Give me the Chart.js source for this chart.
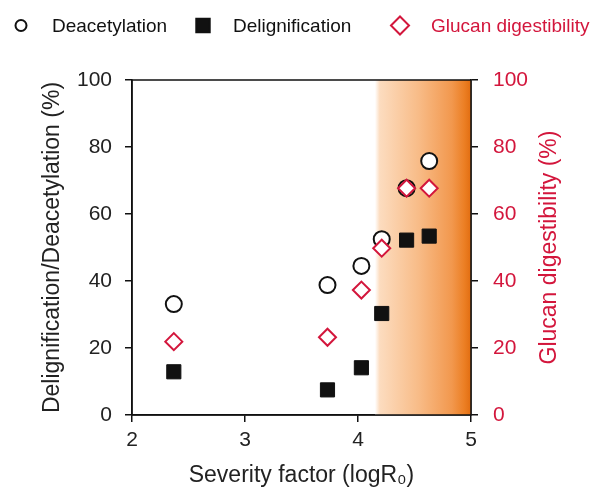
<!DOCTYPE html>
<html>
<head>
<meta charset="utf-8">
<script src="https://cdn.jsdelivr.net/npm/chart.js@4.4.1/dist/chart.umd.min.js"></script>
<style>
  html, body { margin: 0; padding: 0; background: #fff; }
  canvas { display: block; }
</style>
</head>
<body>
<canvas id="chart" width="592" height="487"></canvas>
<script>
// Severity factor (logR0) for each pretreatment
const severity = [2.37, 3.73, 4.03, 4.21, 4.43, 4.63];
// values in %
const deacetylation = [33.1, 38.8, 44.5, 52.5, 67.7, 75.8];
const delignification = [12.9, 7.5, 14.1, 30.3, 52.2, 53.4];
const glucanDigest = [21.9, 23.2, 37.3, 49.8, 67.7, 67.7];
const legendNames = ["Deacetylation", "Delignification", "Glucan digestibility"];
const rightTitle = "Glucan digestibility (%)";
const shadeFrom = 4.15; // orange band starts here

const RED = "#d3163c";
const FONT = "'Liberation Sans', Arial, sans-serif";

function pts(ys) {
  return severity.map((x, i) => ({ x, y: ys[i] }));
}

// orange gradient band behind the points
const shadePlugin = {
  id: "shade",
  beforeDatasetsDraw(chart) {
    const { ctx, chartArea, scales } = chart;
    const x0 = scales.x.getPixelForValue(shadeFrom);
    const x1 = chartArea.right;
    const g = ctx.createLinearGradient(x0, 0, x1, 0);
    g.addColorStop(0, "rgba(255,255,255,1)");
    g.addColorStop(0.05, "#fcdcbf");
    g.addColorStop(0.45, "#f8bc88");
    g.addColorStop(0.8, "#f2984e");
    g.addColorStop(0.93, "#ec7f24");
    g.addColorStop(1, "#e26d10");
    ctx.save();
    ctx.fillStyle = g;
    ctx.fillRect(x0, chartArea.top, x1 - x0, chartArea.bottom - chartArea.top);
    ctx.restore();
  },
  afterDatasetsDraw(chart) {
    const { ctx, chartArea } = chart;
    ctx.save();
    ctx.strokeStyle = "#111";
    ctx.lineWidth = 1.5;
    ctx.strokeRect(chartArea.left, chartArea.top, chartArea.right - chartArea.left, chartArea.bottom - chartArea.top);
    ctx.restore();
  }
};

// legend row across the top (runs off the right edge like the original)
// plus the right axis title, which reads bottom-to-top like the left one
const textPlugin = {
  id: "texts",
  afterDraw(chart) {
    const ctx = chart.ctx;
    const items = [
      { style: "circle", r: 5.5, fill: "#fff", stroke: "#111", px: 21, tx: 52, color: "#111" },
      { style: "rect", r: 9.5, fill: "#111", stroke: "#111", px: 203, tx: 233, color: "#111" },
      { style: "rectRot", r: 9, fill: "#fff", stroke: RED, px: 400, tx: 431, color: RED }
    ];
    ctx.save();
    ctx.font = "19px " + FONT;
    ctx.textBaseline = "middle";
    items.forEach((it, i) => {
      ctx.fillStyle = it.fill;
      ctx.strokeStyle = it.stroke;
      ctx.lineWidth = 2;
      Chart.helpers.drawPoint(ctx, { pointStyle: it.style, radius: it.r, rotation: 0, borderWidth: 2 }, it.px, 25.5);
      ctx.fillStyle = it.color;
      ctx.fillText(legendNames[i], it.tx, 27);
    });
    const a = chart.chartArea;
    ctx.translate(550, (a.top + a.bottom) / 2);
    ctx.rotate(-Math.PI / 2);
    ctx.textAlign = "center";
    ctx.font = "23px " + FONT;
    ctx.fillStyle = RED;
    ctx.fillText(rightTitle, 0, 0);
    ctx.restore();
  }
};

new Chart(document.getElementById("chart"), {
  type: "scatter",
  data: {
    datasets: [
      {
        label: legendNames[2],
        data: pts(glucanDigest),
        yAxisID: "y2",
        pointStyle: "rectRot",
        pointRadius: 8.5,
        pointBorderWidth: 2,
        pointBackgroundColor: "#fff",
        pointBorderColor: RED,
        order: 0
      },
      {
        label: legendNames[1],
        data: pts(delignification),
        yAxisID: "y",
        pointStyle: "rect",
        pointRadius: 10,
        pointBorderWidth: 1,
        pointBackgroundColor: "#111",
        pointBorderColor: "#111",
        order: 1
      },
      {
        label: legendNames[0],
        data: pts(deacetylation),
        yAxisID: "y",
        pointStyle: "circle",
        pointRadius: 8,
        pointBorderWidth: 2,
        pointBackgroundColor: "#fff",
        pointBorderColor: "#111",
        order: 2
      }
    ]
  },
  options: {
    responsive: false,
    animation: false,
    layout: { padding: { top: 80, left: 0, right: 0, bottom: 0 } },
    plugins: {
      legend: { display: false },
      tooltip: { enabled: false }
    },
    scales: {
      x: {
        type: "linear",
        min: 2,
        max: 5,
        afterFit: s => { s.height = 72; },
        ticks: { stepSize: 1, color: "#222", padding: 6, font: { family: FONT, size: 21 } },
        grid: { drawOnChartArea: false, drawTicks: true, tickLength: 7, color: "#111", lineWidth: 1.5 },
        border: { color: "#111", width: 1.5 },
        title: {
          display: true,
          text: "Severity factor (logR\u2080)",
          color: "#222",
          padding: { top: 0, bottom: 0 },
          font: { family: FONT, size: 23, lineHeight: 1 }
        }
      },
      y: {
        position: "left",
        min: 0,
        max: 100,
        afterFit: s => { s.width = 132; },
        ticks: { stepSize: 20, color: "#222", padding: 13, font: { family: FONT, size: 21 } },
        grid: { drawOnChartArea: false, drawTicks: true, tickLength: 7, color: "#111", lineWidth: 1.5 },
        border: { color: "#111", width: 1.5 },
        title: {
          display: true,
          text: "Delignification/Deacetylation (%)",
          color: "#222",
          padding: { top: 41, bottom: 0 },
          font: { family: FONT, size: 23, lineHeight: 1 }
        }
      },
      y2: {
        position: "right",
        min: 0,
        max: 100,
        afterFit: s => { s.width = 121; },
        ticks: { stepSize: 20, color: RED, padding: 15, font: { family: FONT, size: 21 } },
        grid: { drawOnChartArea: false, drawTicks: true, tickLength: 7, color: "#111", lineWidth: 1.5 },
        border: { color: "#111", width: 1.5 },
        title: { display: false }
      }
    }
  },
  plugins: [shadePlugin, textPlugin]
});
</script>
</body>
</html>
